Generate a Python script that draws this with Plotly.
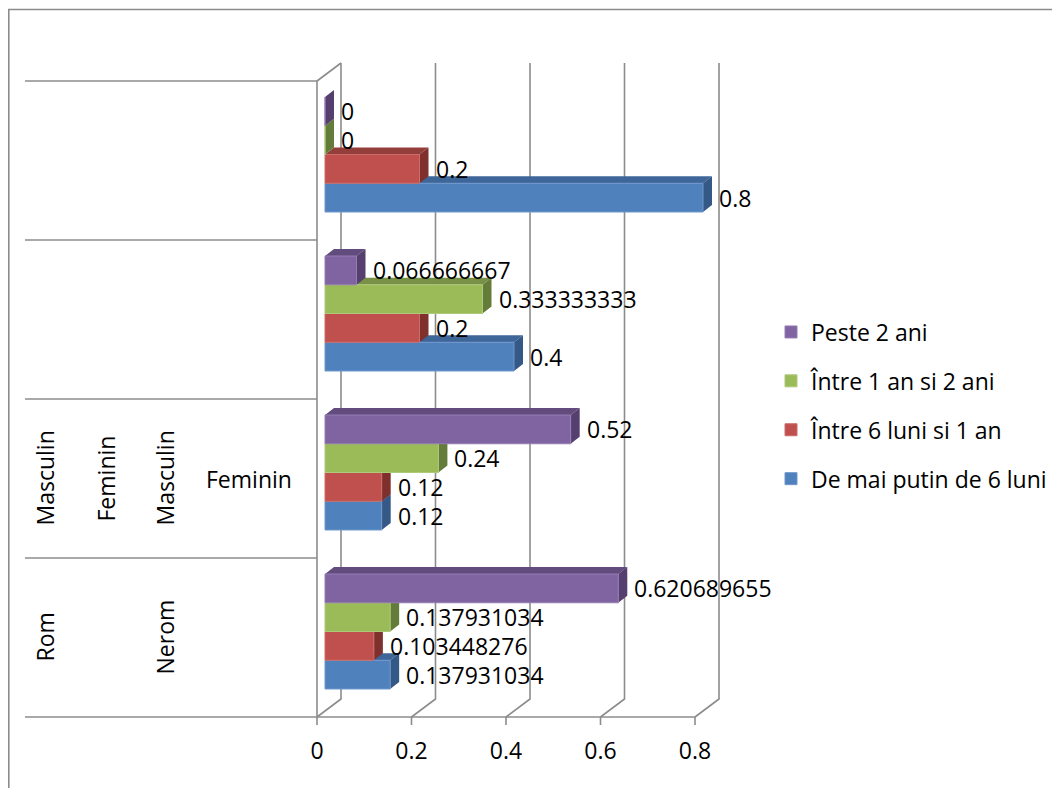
import plotly.graph_objects as go

# ---------------- data ----------------
series_names = ["De mai putin de 6 luni", "Între 6 luni si 1 an", "Între 1 an si 2 ani", "Peste 2 ani"]
# values per category group, bottom -> top
de_mai_putin_6_luni = [0.137931034, 0.12, 0.4, 0.8]
intre_6_luni_1_an = [0.103448276, 0.12, 0.2, 0.2]
intre_1_an_2_ani = [0.137931034, 0.24, 0.333333333, 0]
peste_2_ani = [0.620689655, 0.52, 0.066666667, 0]
category_positions = [0, 1, 2, 3]
# multi-level category labels: (category index, label column, text)
category_labels = [
    (0, 0, "Rom"), (0, 2, "Nerom"),
    (1, 0, "Masculin"), (1, 1, "Feminin"), (1, 2, "Masculin"), (1, 3, "Feminin"),
]
x_ticks = [0, 0.2, 0.4, 0.6, 0.8]
x_tick_labels = ["0", "0.2", "0.4", "0.6", "0.8"]

series_values = [de_mai_putin_6_luni, intre_6_luni_1_an, intre_1_an_2_ani, peste_2_ani]

# ---------------- styles ----------------
front_colors = ["#4F81BD", "#C0504D", "#9BBB59", "#8064A2"]
edge_colors = ["#6F97CB", "#CB6D6A", "#AEC97A", "#957DB3"]
top_colors = ["#3E6699", "#943E3B", "#789147", "#614C7D"]
side_colors = ["#355986", "#7F302D", "#647C39", "#553F6E"]
GRID = "#8C8C8C"
FONT = "Open Sans"
FS = 23

# ---------------- geometry (window pixels) ----------------
OFF = 8                                  # page body margin
W, H = 1060 - 2 * OFF, 796 - 2 * OFF     # figure size
L, R, T, B = 305, 740, 50, 725           # plot area in window px
PX_X, PX_Y = 472.5, 159.0                # px per x unit / per category
X0_PX, Y0_PX = 325.0, 631.5              # pixel of value 0 / category 0 (bar plane)
xr = [(L - X0_PX) / PX_X, (R - X0_PX) / PX_X]
yr = [(Y0_PX - B) / PX_Y, (Y0_PX - T) / PX_Y]

FRONT_DX, FRONT_DY = -8 / PX_X, -6 / PX_Y
BACK_DX, BACK_DY = 16 / PX_X, 12 / PX_Y
BAR_DX, BAR_DY = 9 / PX_X, 7 / PX_Y
BAR_W = 28.75 / PX_Y
BARGAP = 1 - 4 * BAR_W
FLOOR, TOP = -0.5, len(category_positions) - 0.5


def px_x(px):
    return (px - L) / (R - L)


def px_y(py):
    return (B - py) / (B - T)


def path(points):
    return "M " + " L ".join(f"{x:.6f},{y:.6f}" for x, y in points)


fig = go.Figure()
for i, (name, vals, fc, ec) in enumerate(zip(series_names, series_values, front_colors, edge_colors)):
    fig.add_trace(go.Bar(
        x=vals, y=category_positions, orientation="h", name=name,
        legendgroup=name, legendrank=1000 - i,
        marker=dict(color=fc, line=dict(color=ec, width=1)),
        hoverinfo="x+name",
    ))

shapes = []
# back wall gridlines + floor diagonals
for t in x_ticks:
    pts = [(t + FRONT_DX, FLOOR + FRONT_DY), (t + BACK_DX, FLOOR + BACK_DY), (t + BACK_DX, TOP + BACK_DY)]
    shapes.append(dict(type="path", xref="x", yref="y", layer="below",
                       path=path(pts), line=dict(color=GRID, width=1.6)))
# left wall front edge and top
shapes.append(dict(type="path", xref="x", yref="y", layer="below",
                   path=path([(FRONT_DX, FLOOR + FRONT_DY), (FRONT_DX, TOP + FRONT_DY), (BACK_DX, TOP + BACK_DY)]),
                   line=dict(color=GRID, width=1.6)))
# front value axis line and ticks
shapes.append(dict(type="line", xref="x", yref="y", layer="below",
                   x0=x_ticks[0] + FRONT_DX, x1=x_ticks[-1] + FRONT_DX,
                   y0=FLOOR + FRONT_DY, y1=FLOOR + FRONT_DY, line=dict(color=GRID, width=1.6)))
for t in x_ticks:
    shapes.append(dict(type="line", xref="x", yref="y", layer="below",
                       x0=t + FRONT_DX, x1=t + FRONT_DX,
                       y0=FLOOR + FRONT_DY, y1=FLOOR + FRONT_DY - 8 / PX_Y, line=dict(color=GRID, width=1.6)))
# category separators (multi-level label area)
for k in range(len(category_positions) + 1):
    yv = k - 0.5 + FRONT_DY
    shapes.append(dict(type="line", xref="paper", yref="y", x0=px_x(25), x1=px_x(X0_PX - 8),
                       y0=yv, y1=yv, line=dict(color=GRID, width=1.6)))

# 3D faces of bars (drawn under the bar fronts)
annotations = []
for k, c in enumerate(category_positions):
    for i, vals in enumerate(series_values):
        v = vals[k]
        yc = c + (i - 1.5) * BAR_W
        yb, yt = yc - BAR_W / 2, yc + BAR_W / 2
        shapes.append(dict(type="path", xref="x", yref="y", layer="between",
                           path=path([(0, yt), (v, yt), (v + BAR_DX, yt + BAR_DY), (BAR_DX, yt + BAR_DY)]) + " Z",
                           fillcolor=top_colors[i], line=dict(width=0)))
        shapes.append(dict(type="path", xref="x", yref="y", layer="between",
                           path=path([(v, yb), (v + BAR_DX, yb + BAR_DY), (v + BAR_DX, yt + BAR_DY), (v, yt)]) + " Z",
                           fillcolor=side_colors[i], line=dict(width=0)))
        annotations.append(dict(x=v + BAR_DX, y=yc, xref="x", yref="y", text=f"{v:.9g}",
                                showarrow=False, xanchor="left", yanchor="middle", xshift=5,
                                font=dict(family=FONT, size=FS, color="black")))

# chart border
shapes.append(dict(type="rect", xref="paper", yref="paper", x0=px_x(8.8), x1=px_x(1100),
                   y0=px_y(840), y1=px_y(9.5), line=dict(color=GRID, width=1.6)))

label_cols = [44, 105, 164, 249]
for k, col, text in category_labels:
    annotations.append(dict(x=px_x(label_cols[col]), y=category_positions[k] + FRONT_DY,
                            xref="paper", yref="y", text=text, showarrow=False,
                            textangle=-90 if col < 3 else 0, xanchor="center", yanchor="middle",
                            font=dict(family=FONT, size=FS, color="black")))

fig.update_layout(
    width=W, height=H,
    margin=dict(l=L - OFF, r=W - (R - OFF), t=T - OFF, b=H - (B - OFF), autoexpand=False),
    paper_bgcolor="white", plot_bgcolor="rgba(0,0,0,0)",
    barmode="group", bargap=BARGAP, bargroupgap=0,
    font=dict(family=FONT, size=FS, color="black"),
    shapes=shapes, annotations=annotations,
    showlegend=True,
    legend=dict(x=px_x(771), y=px_y(405.5), xanchor="left", yanchor="middle",
                traceorder="grouped", tracegroupgap=16,
                font=dict(family=FONT, size=FS, color="black"), bgcolor="rgba(0,0,0,0)"),
    xaxis=dict(range=xr, showgrid=False, zeroline=False, showline=False,
               tickvals=[t + FRONT_DX for t in x_ticks], ticktext=x_tick_labels,
               ticks="", ticklabelstandoff=10, tickfont=dict(family=FONT, size=FS, color="black")),
    yaxis=dict(range=yr, showgrid=False, zeroline=False, showline=False,
               showticklabels=False, ticks=""),
)

fig.write_html("out.html")
